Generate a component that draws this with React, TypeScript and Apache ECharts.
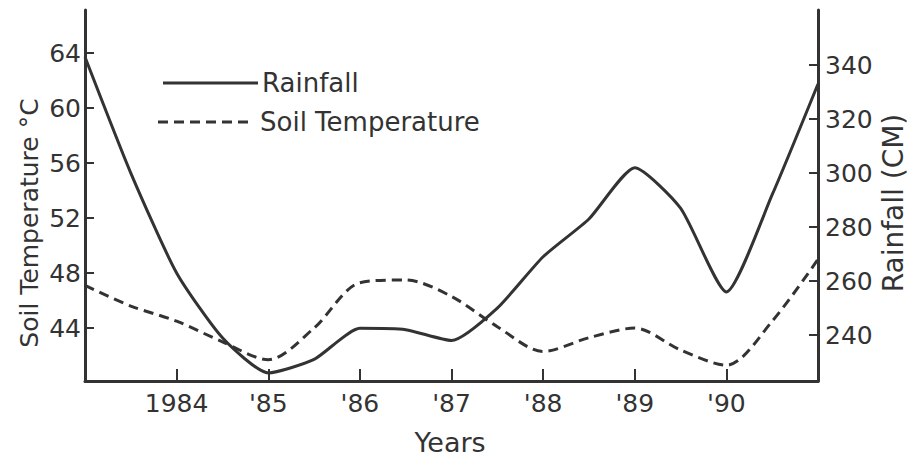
import React, { useEffect, useRef } from "react";
import * as echarts from "echarts";

const years = [1983, 1983.5, 1984, 1984.5, 1985, 1985.5, 1986, 1986.5, 1987, 1987.5, 1988, 1988.5, 1989, 1989.5, 1990, 1990.5, 1991];
const rainfall = [343, 300, 263, 239, 226, 231, 242.5, 242, 238, 250, 269, 283, 302, 287, 256, 292, 333];
const soilTemperature = [47.1, 45.6, 44.5, 43.0, 41.7, 44.0, 47.3, 47.5, 46.3, 44.1, 42.3, 43.3, 44.0, 42.4, 41.3, 44.5, 49.0];
const xTickYears = [1984, 1985, 1986, 1987, 1988, 1989, 1990];
const xTickLabels = ["1984", "'85", "'86", "'87", "'88", "'89", "'90"];
const leftTicks = [44, 48, 52, 56, 60, 64];
const rightTicks = [240, 260, 280, 300, 320, 340];
const seriesNames = ["Rainfall", "Soil Temperature"];

const INK = "#333333";
const FONT = "'DejaVu Sans', 'Noto Sans', sans-serif";

export default function App() {
  const ref = useRef<HTMLDivElement>(null);
  useEffect(() => {
    if (!ref.current) return;
    const chart = echarts.init(ref.current, undefined, { renderer: "svg" });
    const labelStyle = { color: INK, fontFamily: FONT, fontSize: 25 };
    chart.setOption({
      animation: false,
      backgroundColor: "#ffffff",
      grid: { left: 85, right: 91, top: 10, bottom: 78 },
      xAxis: {
        type: "value",
        min: 1983,
        max: 1991,
        splitLine: { show: false },
        axisLine: { show: true, lineStyle: { color: INK, width: 3 } },
        axisTick: { show: true, inside: true, length: 12, lineStyle: { color: INK, width: 2 }, customValues: xTickYears },
        axisLabel: {
          ...labelStyle,
          margin: 10,
          customValues: xTickYears,
          formatter: (v: number) => {
            const i = xTickYears.indexOf(Math.round(v));
            return i >= 0 ? xTickLabels[i] : "";
          },
        },
      },
      yAxis: [
        {
          type: "value",
          position: "left",
          min: 40.15,
          max: 67.13,
          splitLine: { show: false },
          axisLine: { show: true, lineStyle: { color: INK, width: 3 } },
          axisTick: { show: true, inside: true, length: 9, lineStyle: { color: INK, width: 2 }, customValues: leftTicks },
          axisLabel: { ...labelStyle, margin: 4, customValues: leftTicks },
        },
        {
          type: "value",
          position: "right",
          min: 223,
          max: 360.4,
          splitLine: { show: false },
          axisLine: { show: true, lineStyle: { color: INK, width: 3 } },
          axisTick: { show: true, inside: true, length: 9, lineStyle: { color: INK, width: 2 }, customValues: rightTicks },
          axisLabel: { ...labelStyle, margin: 7, customValues: rightTicks },
        },
      ],
      series: [
        {
          name: seriesNames[0],
          type: "line",
          yAxisIndex: 1,
          smooth: 0.2,
          symbol: "none",
          lineStyle: { color: INK, width: 3 },
          itemStyle: { color: INK },
          data: years.map((y, i) => [y, rainfall[i]]),
        },
        {
          name: seriesNames[1],
          type: "line",
          yAxisIndex: 0,
          smooth: 0.3,
          symbol: "none",
          lineStyle: { color: INK, width: 3, type: [10, 6] },
          itemStyle: { color: INK },
          data: years.map((y, i) => [y, soilTemperature[i]]),
        },
      ],
      graphic: [
        {
          type: "line",
          shape: { x1: 163, y1: 83, x2: 258, y2: 83 },
          style: { stroke: INK, lineWidth: 3 },
        },
        {
          type: "text",
          x: 262,
          y: 83,
          style: { text: seriesNames[0], fill: INK, font: `26px ${FONT}`, align: "left", verticalAlign: "middle" },
        },
        {
          type: "line",
          shape: { x1: 158, y1: 122, x2: 254, y2: 122 },
          style: { stroke: INK, lineWidth: 3, lineDash: [10, 6] },
        },
        {
          type: "text",
          x: 260,
          y: 122,
          style: { text: seriesNames[1], fill: INK, font: `26px ${FONT}`, align: "left", verticalAlign: "middle" },
        },
        {
          type: "text",
          x: 29,
          y: 223,
          rotation: Math.PI / 2,
          style: { text: "Soil Temperature °C", fill: INK, font: `25px ${FONT}`, align: "center", verticalAlign: "middle" },
        },
        {
          type: "text",
          x: 893,
          y: 203,
          rotation: Math.PI / 2,
          style: { text: "Rainfall (CM)", fill: INK, font: `28px ${FONT}`, align: "center", verticalAlign: "middle" },
        },
        {
          type: "text",
          x: 450,
          y: 442,
          style: { text: "Years", fill: INK, font: `27px ${FONT}`, align: "center", verticalAlign: "middle" },
        },
      ],
    });
    return () => chart.dispose();
  }, []);
  return <div ref={ref} style={{ position: "absolute", left: 0, top: 0, width: 909, height: 459 }} />;
}
